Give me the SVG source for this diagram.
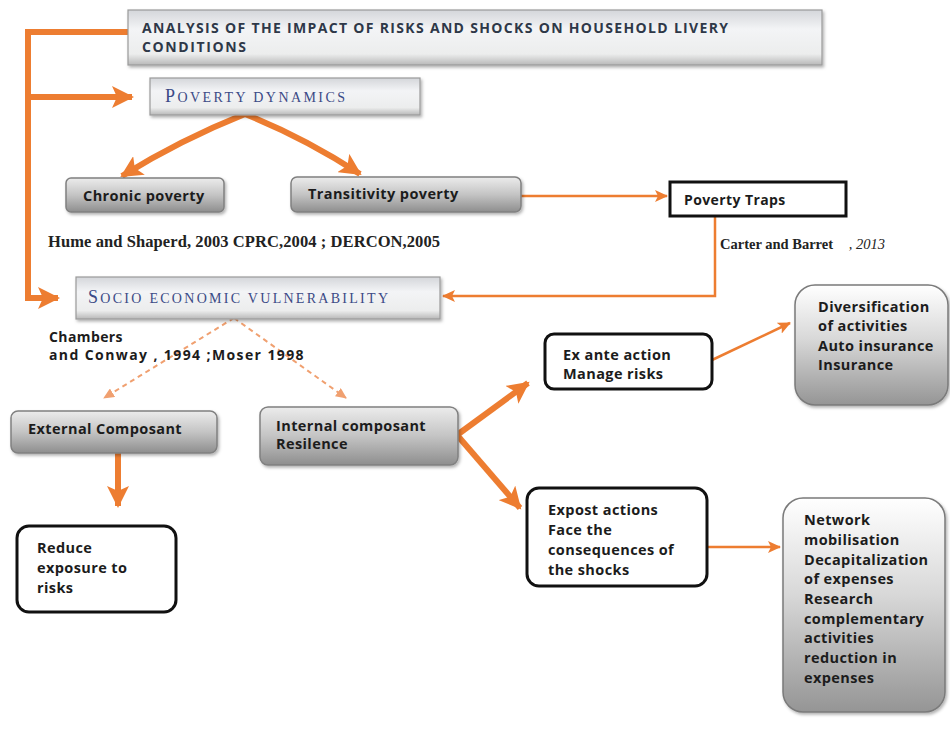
<svg xmlns="http://www.w3.org/2000/svg" width="950" height="733" viewBox="0 0 950 733">
<defs>
<style>
.t{font-family:"Open Sans","Liberation Sans",sans-serif;font-weight:bold;font-size:14.5px;letter-spacing:0.4px;fill:#1c1c1c}
.ttl{font-family:"Open Sans","Liberation Sans",sans-serif;font-weight:bold;font-size:14px;fill:#2e3848}
.sc{font-family:"Liberation Serif",serif;fill:#3b4a86}
.ref{font-family:"Liberation Serif",serif;font-size:16.5px;fill:#222;font-weight:bold}
.thick{fill:none;stroke:#ED7D31;stroke-width:6}
.thin{fill:none;stroke:#ED7D31;stroke-width:2.5}
.dash{fill:none;stroke:#F0A070;stroke-width:2;stroke-dasharray:5 4}
.gray{fill:url(#gGray);stroke:#808080;stroke-width:1.5}
.band{fill:url(#gBand);stroke:#9a9a9a;stroke-width:1.2}
.white{fill:#fff;stroke:#111;stroke-width:3}
.soft{fill:url(#gSoft);stroke:#7a7a7a;stroke-width:1.5}
</style>
<linearGradient id="gGray" x1="0" y1="0" x2="0" y2="1">
<stop offset="0" stop-color="#ececec"/><stop offset="0.5" stop-color="#c4c4c4"/><stop offset="1" stop-color="#8e8e8e"/>
</linearGradient>
<linearGradient id="gBand" x1="0" y1="0" x2="0" y2="1">
<stop offset="0" stop-color="#d4d6da"/><stop offset="0.35" stop-color="#f3f4f6"/><stop offset="0.8" stop-color="#eceded"/><stop offset="1" stop-color="#b8b8b8"/>
</linearGradient>
<linearGradient id="gSoft" x1="0" y1="0" x2="0" y2="1">
<stop offset="0" stop-color="#ffffff"/><stop offset="0.45" stop-color="#d8d8d8"/><stop offset="1" stop-color="#959595"/>
</linearGradient>
<filter id="sh" x="-10%" y="-10%" width="130%" height="140%">
<feDropShadow dx="1.5" dy="2" stdDeviation="1.5" flood-color="#000" flood-opacity="0.3"/>
</filter>
<marker id="aBig" markerUnits="userSpaceOnUse" markerWidth="24" markerHeight="22" refX="20" refY="11" orient="auto">
<path d="M0,0 L22,11 L0,22 L5,11 Z" fill="#ED7D31"/>
</marker>
<marker id="aSmall" markerUnits="userSpaceOnUse" markerWidth="14" markerHeight="12" refX="12" refY="6" orient="auto">
<path d="M0,0 L13,6 L0,12 L3,6 Z" fill="#ED7D31"/>
</marker>
<marker id="aDash" markerUnits="userSpaceOnUse" markerWidth="12" markerHeight="10" refX="10" refY="5" orient="auto">
<path d="M0,0 L11,5 L0,10 Z" fill="#F0A070"/>
</marker>
</defs>
<rect width="950" height="733" fill="#fff"/>

<g id="connectors">
<path class="thick" d="M128,32 H28 V298 H58" marker-end="url(#aBig)"/>
<path class="thick" d="M28,97 H132" marker-end="url(#aBig)"/>
<path class="thick" d="M245,114 Q180,140 122,176" marker-end="url(#aBig)"/>
<path class="thick" d="M245,114 Q305,138 360,174" marker-end="url(#aBig)"/>
<path class="thin" d="M521,196 H667" marker-end="url(#aSmall)"/>
<path class="thin" d="M715,216 V296 H443" marker-end="url(#aSmall)"/>
<path class="dash" d="M234,318 L104,398" marker-end="url(#aDash)"/>
<path class="dash" d="M234,318 L346,398" marker-end="url(#aDash)"/>
<path class="thick" d="M118,453 V506" marker-end="url(#aBig)"/>
<path class="thick" d="M457,435 L528,383" marker-end="url(#aBig)"/>
<path class="thick" d="M457,435 L520,508" marker-end="url(#aBig)"/>
<path class="thin" d="M712,360 L790,323" marker-end="url(#aSmall)"/>
<path class="thin" d="M708,547 H780" marker-end="url(#aSmall)"/>
</g>

<g id="title">
<rect class="band" x="128" y="10" width="694" height="55" filter="url(#sh)"/>
<text class="ttl" x="142" y="33" textLength="586" lengthAdjust="spacing">ANALYSIS OF THE IMPACT OF RISKS AND SHOCKS ON HOUSEHOLD LIVERY</text>
<text class="ttl" x="142" y="52" textLength="104" lengthAdjust="spacing">CONDITIONS</text>
</g>

<g id="poverty-dynamics">
<rect class="band" x="150" y="78" width="270" height="37" filter="url(#sh)"/>
<text class="sc" x="165" y="102" textLength="180" lengthAdjust="spacing"><tspan font-size="18">P</tspan><tspan font-size="14">OVERTY DYNAMICS</tspan></text>
</g>

<g id="chronic-poverty">
<rect class="gray" x="66" y="178" width="158" height="34" rx="5" filter="url(#sh)"/>
<text class="t" x="83" y="201">Chronic poverty</text>
</g>

<g id="transitivity-poverty">
<rect class="gray" x="291" y="177" width="230" height="35" rx="6" filter="url(#sh)"/>
<text class="t" x="308" y="199">Transitivity poverty</text>
</g>

<g id="poverty-traps">
<rect x="670" y="182" width="176" height="34" fill="#fff" stroke="#111" stroke-width="3"/>
<text class="t" x="684" y="205" style="font-size:14px">Poverty Traps</text>
</g>

<g id="ref-hume">
<text class="ref" x="48" y="247" textLength="392" lengthAdjust="spacing">Hume and Shaperd, 2003 CPRC,2004 ; DERCON,2005</text>
</g>

<g id="ref-carter">
<text class="ref" x="720" y="249" style="font-size:14.5px">Carter and Barret <tspan font-weight="normal" font-style="italic" dx="12">, 2013</tspan></text>
</g>

<g id="socio-vulnerability">
<rect class="band" x="76" y="277" width="364" height="42" filter="url(#sh)"/>
<text class="sc" x="88" y="303" textLength="300" lengthAdjust="spacing"><tspan font-size="18">S</tspan><tspan font-size="14">OCIO ECONOMIC VULNERABILITY</tspan></text>
</g>

<g id="ref-chambers">
<text class="t" x="49" y="342" style="font-size:14px">Chambers</text>
<text class="t" x="49" y="360" style="font-size:14px" textLength="255" lengthAdjust="spacing">and Conway , 1994 ;Moser 1998</text>
</g>

<g id="external-composant">
<rect class="gray" x="11" y="411" width="206" height="42" rx="7" filter="url(#sh)"/>
<text class="t" x="28" y="434">External Composant</text>
</g>

<g id="internal-composant">
<rect class="gray" x="260" y="407" width="198" height="58" rx="8" filter="url(#sh)"/>
<text class="t" x="276" y="431">Internal composant</text>
<text class="t" x="276" y="449">Resilence</text>
</g>

<g id="reduce-exposure">
<rect class="white" x="17" y="526" width="159" height="86" rx="12"/>
<text class="t" x="37" y="553">Reduce</text>
<text class="t" x="37" y="573">exposure to</text>
<text class="t" x="37" y="593">risks</text>
</g>

<g id="ex-ante">
<rect class="white" x="545" y="334" width="167" height="55" rx="9"/>
<text class="t" x="563" y="360">Ex ante action</text>
<text class="t" x="563" y="379">Manage risks</text>
</g>

<g id="expost">
<rect class="white" x="527" y="488" width="180" height="98" rx="12"/>
<text class="t" x="548" y="515">Expost actions</text>
<text class="t" x="548" y="535">Face the</text>
<text class="t" x="548" y="555">consequences of</text>
<text class="t" x="548" y="575">the shocks</text>
</g>

<g id="diversification">
<rect class="soft" x="795" y="285" width="153" height="120" rx="20" filter="url(#sh)"/>
<text class="t" x="818" y="312">Diversification</text>
<text class="t" x="818" y="331">of activities</text>
<text class="t" x="818" y="351">Auto insurance</text>
<text class="t" x="818" y="370">Insurance</text>
</g>

<g id="network">
<rect class="soft" x="783" y="498" width="162" height="214" rx="20" filter="url(#sh)"/>
<text class="t" x="804" y="525">Network</text>
<text class="t" x="804" y="545">mobilisation</text>
<text class="t" x="804" y="565">Decapitalization</text>
<text class="t" x="804" y="584">of expenses</text>
<text class="t" x="804" y="604">Research</text>
<text class="t" x="804" y="624">complementary</text>
<text class="t" x="804" y="643">activities</text>
<text class="t" x="804" y="663">reduction in</text>
<text class="t" x="804" y="683">expenses</text>
</g>
</svg>
